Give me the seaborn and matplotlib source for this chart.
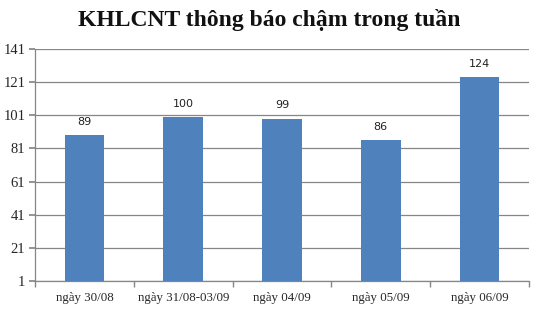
import matplotlib
matplotlib.use("Agg")
import matplotlib.pyplot as plt
import seaborn as sns
import pandas as pd

categories = ["ngày 30/08", "ngày 31/08-03/09", "ngày 04/09", "ngày 05/09", "ngày 06/09"]
values = [89, 100, 99, 86, 124]
yticks = [1, 21, 41, 61, 81, 101, 121, 141]

sns.set_theme(style="white")
plt.rcParams['font.family'] = ['Liberation Serif', 'DejaVu Serif']

df = pd.DataFrame({"cat": categories, "val": values})

fig = plt.figure(figsize=(5.39, 3.11), dpi=100)
ax = fig.add_axes([35/539, 1 - 281/311, (529-35)/539, (281-49)/311])

sns.barplot(data=df, x="cat", y="val", color="#4F81BD", saturation=1, width=0.4, ax=ax, zorder=3)
for p in ax.patches:
    p.set_edgecolor("none")

ax.set_ylim(1, 141)
ax.set_xlim(-0.5, len(categories) - 0.5)
ax.set_yticks(yticks)
ax.set_yticklabels([str(t) for t in yticks], fontsize=10.5)
ax.yaxis.grid(True, color="#868686", linewidth=0.9, zorder=0)
ax.set_axisbelow(True)

ax.set_xticks(range(len(categories)))
ax.set_xticklabels(categories, fontsize=9.3)
ax.set_xticks([i - 0.5 for i in range(len(categories) + 1)], minor=True)
ax.tick_params(axis="x", which="major", length=0, pad=8)
ax.tick_params(axis="x", which="minor", length=4, color="#868686", direction="out", bottom=True)
ax.tick_params(axis="y", which="major", length=4, color="#868686", direction="out", left=True, pad=3)

for s in ["top", "right"]:
    ax.spines[s].set_visible(False)
for s in ["left", "bottom"]:
    ax.spines[s].set_color("#868686")
    ax.spines[s].set_linewidth(0.9)

ax.set_xlabel("")
ax.set_ylabel("")

for c in ax.containers:
    ax.bar_label(c, labels=[str(v) for v in values], padding=6, fontsize=8, family="DejaVu Sans", color="#222222")

fig.text(0.5, 1 - 20/311, "KHLCNT thông báo chậm trong tuần", ha="center", va="center",
         fontsize=17, fontweight="bold", family="Liberation Serif", color="#111111")

fig.savefig("out.png", dpi=100)
